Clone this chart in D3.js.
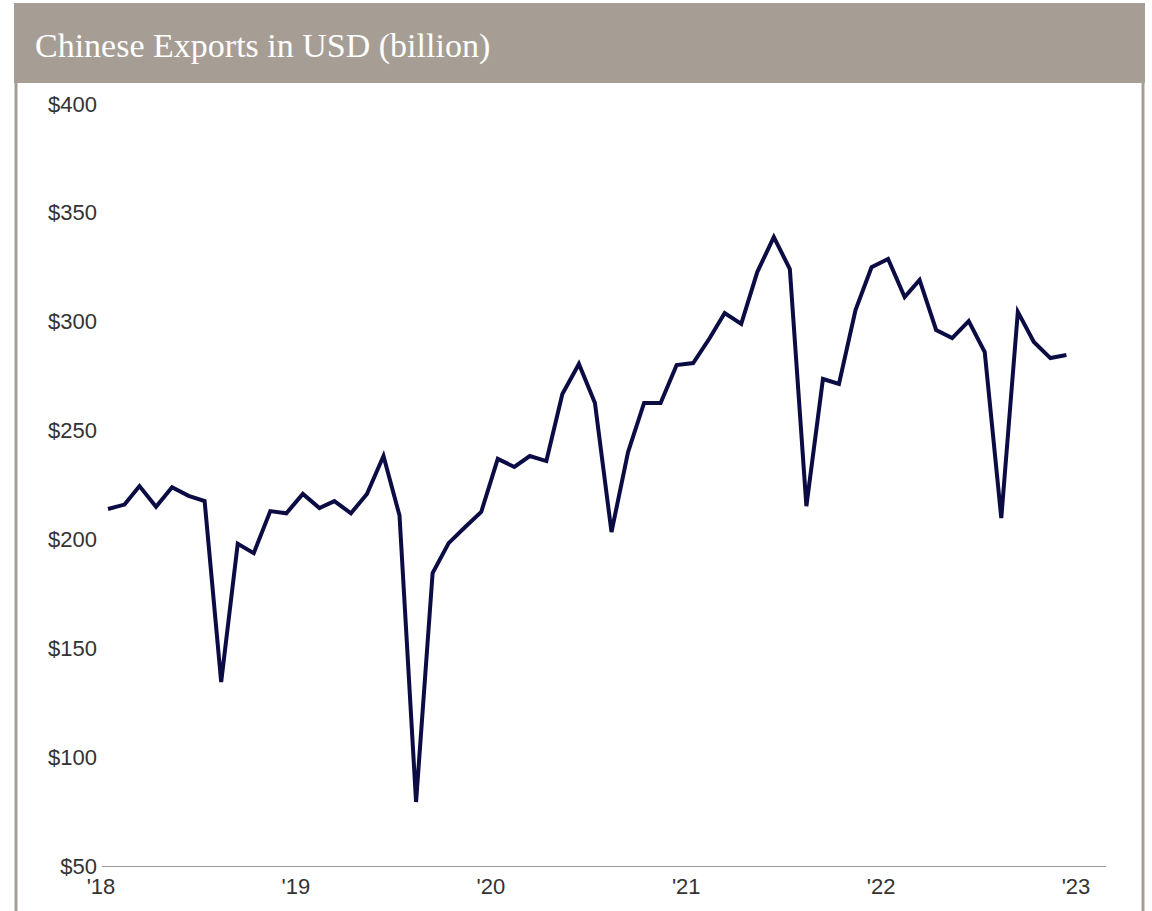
<!DOCTYPE html>
<html>
<head>
<meta charset="utf-8">
<script src="https://cdn.jsdelivr.net/npm/d3@7"></script>
<style>
  body { margin: 0; background: #fff; }
  svg { display: block; }
  .axis text { font-family: Arial, "Liberation Sans", sans-serif; font-size: 22px; fill: #333; }
</style>
</head>
<body>
<div id="chart"></div>
<script>
// monthly exports, USD billion, Jan 2018 - Dec 2022
const years = [2018, 2019, 2020, 2021, 2022];
const exports2018 = [214, 216, 224.5, 215, 224, 220, 217.6, 134.5, 198, 193.7, 213, 212];
const exports2019 = [220.9, 214.4, 217.6, 212, 220.9, 238.3, 211, 79.4, 184.6, 198.3, 205.7, 212.6];
const exports2020 = [237, 233.3, 238.3, 236, 266.8, 280.6, 262.7, 203.4, 240.1, 262.7, 262.7, 280.1];
const exports2021 = [281, 292.5, 304, 299, 322.8, 338.9, 324.2, 215.3, 273.7, 271.4, 305.4, 325];
const exports2022 = [328.8, 311.3, 319.2, 296.2, 292.5, 300.3, 286.1, 209.8, 304.5, 290.7, 283.3, 284.7];
const yTicks = [50, 100, 150, 200, 250, 300, 350, 400];
const xTickYears = [2018, 2019, 2020, 2021, 2022, 2023];
const title = 'Chinese Exports in USD (billion)';

const data = [exports2018, exports2019, exports2020, exports2021, exports2022]
  .flatMap((vals, i) => vals.map((v, m) => ({ date: new Date(years[i], m, 15), value: v })));

const width = 1152;
const height = 911;

const svg = d3.select('#chart')
  .append('svg')
  .attr('width', width)
  .attr('height', height);

// frame + title band
const frameColor = '#a69d94';
svg.append('rect')
  .attr('x', 14).attr('y', 3)
  .attr('width', 1131).attr('height', 80)
  .attr('fill', frameColor);
svg.append('line')
  .attr('x1', 16).attr('x2', 16).attr('y1', 83).attr('y2', height)
  .attr('stroke', frameColor).attr('stroke-width', 3);
svg.append('line')
  .attr('x1', 1143).attr('x2', 1143).attr('y1', 83).attr('y2', height)
  .attr('stroke', frameColor).attr('stroke-width', 3);

svg.append('text')
  .attr('x', 35)
  .attr('y', 57)
  .attr('fill', '#fff')
  .style('font-family', '"Liberation Serif", "DejaVu Serif", serif')
  .style('font-size', '34px')
  .text(title);

// scales
const xScale = d3.scaleTime()
  .domain([new Date(2018, 0, 1), new Date(2023, 0, 1)])
  .range([100.5, 1075.5]);

const yScale = d3.scaleLinear()
  .domain([50, 400])
  .range([866, 104]);

// x axis
const xAxis = svg.append('g')
  .attr('class', 'axis')
  .attr('transform', 'translate(0, 866)')
  .call(d3.axisBottom(xScale)
    .tickValues(xTickYears.map(y => new Date(y, 0, 1)))
    .tickFormat(d => "'" + String(d.getFullYear()).slice(2))
    .tickSize(0)
    .tickPadding(12));
xAxis.select('.domain').remove();
svg.append('line')
  .attr('x1', 102).attr('x2', 1106)
  .attr('y1', 866.5).attr('y2', 866.5)
  .attr('stroke', '#999').attr('stroke-width', 1);

// y axis
const yAxis = svg.append('g')
  .attr('class', 'axis')
  .attr('transform', 'translate(97, 0)')
  .call(d3.axisLeft(yScale)
    .tickValues(yTicks)
    .tickFormat(d => '$' + d)
    .tickSize(0)
    .tickPadding(0));
yAxis.select('.domain').remove();

// line
const line = d3.line()
  .x(d => xScale(d.date))
  .y(d => yScale(d.value));

svg.append('path')
  .datum(data)
  .attr('fill', 'none')
  .attr('stroke', '#0c0c44')
  .attr('stroke-width', 4)
  .attr('d', line);
</script>
</body>
</html>
